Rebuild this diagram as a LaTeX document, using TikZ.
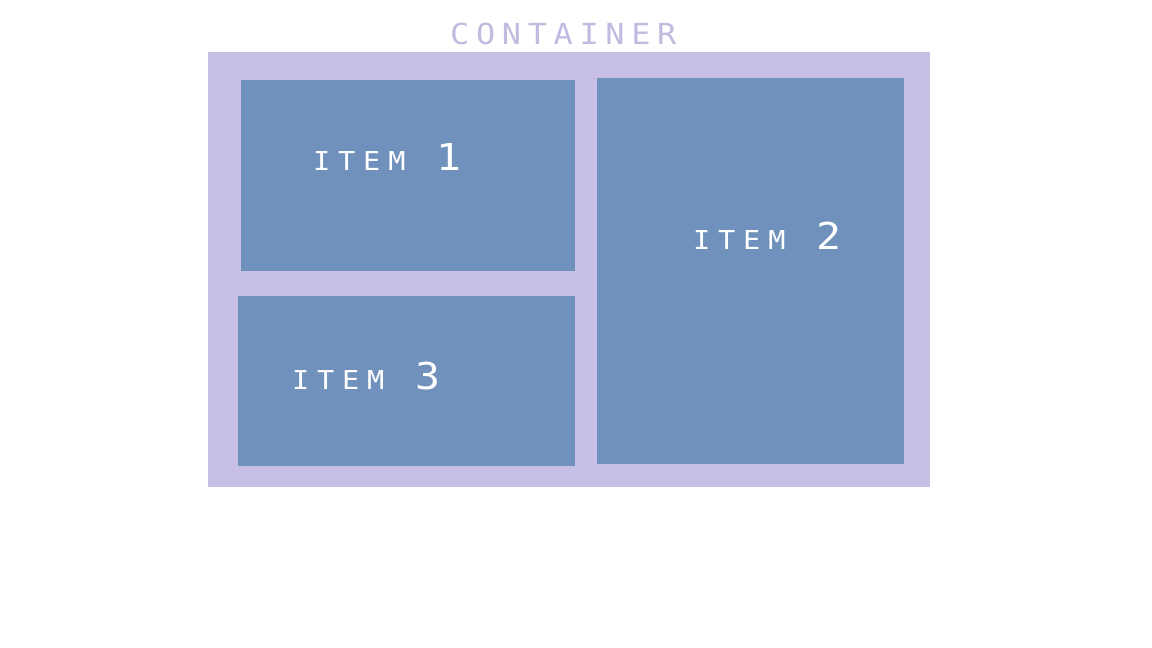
\documentclass[tikz,border=0pt]{standalone}
\usepackage{fontspec}
\newfontfamily\titlefont[LetterSpace=23,FakeStretch=1.1]{DejaVu Sans Mono}
\newfontfamily\itemfont[LetterSpace=30,FakeStretch=1.1]{DejaVu Sans Mono}
\newfontfamily\numfont[FakeStretch=1.12]{DejaVu Sans Mono}
\definecolor{contc}{HTML}{C8BFE6}
\definecolor{itemc}{HTML}{6F91BB}
\definecolor{titlec}{HTML}{C2BBE0}
\tikzset{
  box/.style={fill=itemc, draw=none},
  lbl/.style={anchor=base west, inner sep=0pt, text=white},
}
\newcommand{\itemlabel}[1]{{\itemfont\fontsize{26}{26}\selectfont ITEM}\hspace*{31pt}{\numfont\fontsize{37}{37}\selectfont #1}}
\begin{document}
\begin{tikzpicture}[x=1pt,y=-1pt]
\useasboundingbox (0,0) rectangle (1152,648);
\fill[white] (0,0) rectangle (1152,648);
\fill[contc] (208,52) rectangle (930,487);
\node[lbl, text=titlec, font=\titlefont\fontsize{29}{29}\selectfont] (title) at (450,44) {CONTAINER};
\fill[box] (241,80) rectangle (575,271);
\fill[box] (597,78) rectangle (904,464);
\fill[box] (238,296) rectangle (575,466);
\node[lbl] (l1) at (313,170) {\itemlabel{1}};
\node[lbl] (l2) at (693,249) {\itemlabel{2}};
\node[lbl] (l3) at (292,389) {\itemlabel{3}};
\end{tikzpicture}
\end{document}
